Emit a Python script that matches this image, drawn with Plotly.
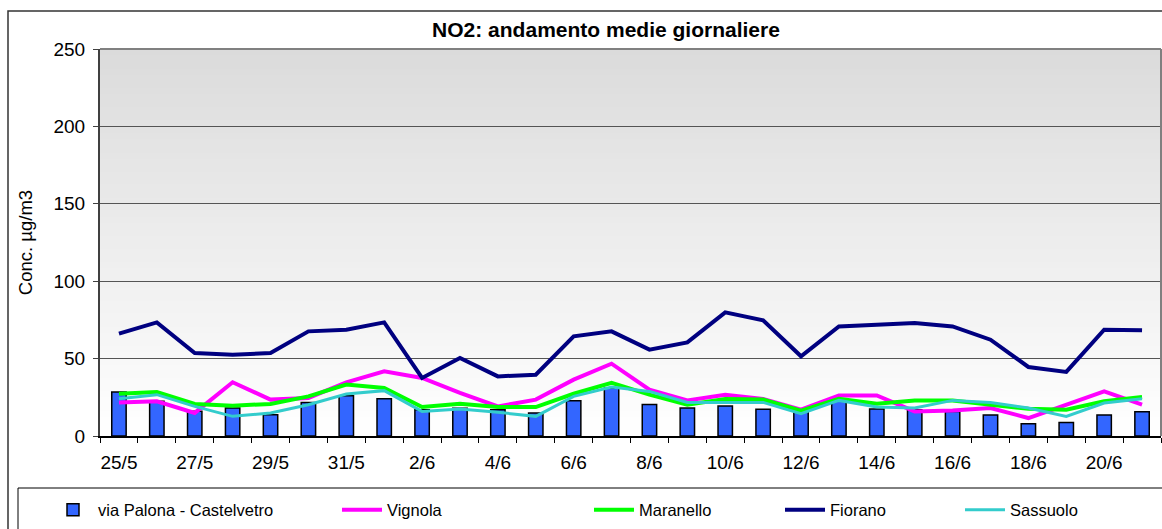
import plotly.graph_objects as go

dates = ["25/5", "26/5", "27/5", "28/5", "29/5", "30/5", "31/5",
         "1/6", "2/6", "3/6", "4/6", "5/6", "6/6", "7/6", "8/6", "9/6",
         "10/6", "11/6", "12/6", "13/6", "14/6", "15/6", "16/6", "17/6",
         "18/6", "19/6", "20/6", "21/6"]

palona = [28.4, 22.5, 16, 18.1, 13.8, 21.7, 26, 24.1, 17, 18, 17, 14.9, 22.8, 31,
          20.4, 18.1, 19.4, 17.2, 15.5, 22.4, 17.4, 17, 15.9, 13.6, 7.9, 8.8, 13.6, 15.7]
vignola = [21.7, 22.4, 14.9, 34.7, 23.5, 24.6, 34.7, 41.8, 37.5, 27.8, 19.1, 23.5, 36.4, 46.7,
           29.9, 23, 26.7, 23.9, 17, 26.2, 26.2, 15.9, 16.4, 18.1, 11.6, 20.2, 28.8, 20.2]
maranello = [27.3, 28.4, 20.7, 19.6, 20.7, 25.6, 33.2, 31, 18.7, 20.9, 18.7, 18.7, 27.3, 34.3,
             26.7, 20.2, 23.9, 23.5, 16.4, 24.1, 20.9, 23, 23, 20.2, 17.6, 17, 22.4, 25.2]
fiorano = [66.1, 73.4, 53.6, 52.5, 53.6, 67.6, 68.7, 73.4, 37.5, 50.4, 38.5, 39.6, 64.4, 67.6,
           55.8, 60.5, 79.9, 74.7, 51.5, 70.8, 71.9, 73, 70.8, 62.2, 44.6, 41.4, 68.7, 68.3]
sassuolo = [24.1, 26.7, 19.1, 12.7, 14.9, 20.2, 27.1, 29.3, 15.9, 17.4, 15.3, 12.7, 25.6, 31.7,
            28.8, 21.7, 21.7, 21.7, 14.4, 23, 18.7, 18.1, 23, 21.7, 18.1, 12.7, 21.3, 24.1]

tick_text = [d if i % 2 == 0 else "" for i, d in enumerate(dates)]

W, H = 1162, 529
ML, MR, MT, MB = 100, 1, 49, 93
PW, PH = W - ML - MR, H - MT - MB


def px(xp):
    return (xp - ML) / PW


def py(yp):
    return (H - MB - yp) / PH


FONT = "Liberation Sans, Arial, sans-serif"

fig = go.Figure()
fig.add_trace(go.Bar(x=dates, y=palona, name="via Palona - Castelvetro",
                     marker=dict(color="#3366ff", line=dict(color="black", width=1.5)),
                     legend="legend"))
line_specs = [("Vignola", vignola, "#ff00ff", 4, "legend2"),
              ("Maranello", maranello, "#00ff00", 4, "legend3"),
              ("Fiorano", fiorano, "#000080", 4, "legend4"),
              ("Sassuolo", sassuolo, "#33cccc", 3, "legend5")]
for name, vals, col, w, lg in line_specs:
    fig.add_trace(go.Scatter(x=dates, y=vals, name=name, mode="lines",
                             line=dict(color=col, width=w), legend=lg))

# background gradient stripes
shapes = []
N = 60
c0, c1 = 0xdb, 0xff
for i in range(N):
    t = (i + 0.5) / N
    c = int(round(c1 + (c0 - c1) * t))
    col = f"rgb({c},{c},{c})"
    shapes.append(dict(type="rect", xref="paper", yref="paper", x0=0, x1=1,
                       y0=i / N, y1=(i + 1) / N + 0.002, fillcolor=col,
                       line=dict(width=0), layer="below"))
# plot border top/right
shapes.append(dict(type="line", xref="paper", yref="paper", x0=0, x1=1, y0=1, y1=1,
                   line=dict(color="#808080", width=2)))
shapes.append(dict(type="line", xref="paper", yref="paper", x0=1, x1=1, y0=0, y1=1,
                   line=dict(color="#808080", width=2)))
# outer chart border
shapes.append(dict(type="rect", xref="paper", yref="paper", x0=px(8), x1=px(1180),
                   y0=py(560), y1=py(11), line=dict(color="#333333", width=1.5)))
# legend box
shapes.append(dict(type="rect", xref="paper", yref="paper", x0=px(18), x1=px(1180),
                   y0=py(560), y1=py(488), line=dict(color="#000000", width=1)))

legend_common = dict(orientation="h", xref="container", yref="container",
                     yanchor="middle", bgcolor="rgba(0,0,0,0)",
                     font=dict(family=FONT, size=16.5, color="black"), itemwidth=40)
text_starts = [98, 387, 639, 830, 1010]
legends = {}
for k, xs in zip(["legend", "legend2", "legend3", "legend4", "legend5"], text_starts):
    legends[k] = dict(legend_common, x=(xs - 50) / W, y=1 - 510 / H)

fig.update_layout(
    width=W, height=H,
    margin=dict(l=ML, r=MR, t=MT, b=MB, autoexpand=False),
    paper_bgcolor="white", plot_bgcolor="rgba(0,0,0,0)",
    font=dict(family=FONT, size=19, color="black"),
    title=dict(text="<b>NO2: andamento medie giornaliere</b>", x=606 / W, xref="container",
               xanchor="center", y=1 - 30 / H, yref="container", yanchor="middle",
               font=dict(family=FONT, size=21, color="black")),
    bargap=0.62,
    showlegend=True,
    shapes=shapes,
    **legends,
)
fig.update_xaxes(type="category", tickvals=dates, ticktext=tick_text, tickson="boundaries",
                 ticks="outside", ticklen=5, tickcolor="black", showline=True,
                 linecolor="black", linewidth=1.5, showgrid=False, zeroline=False,
                 tickfont=dict(family=FONT, size=19), ticklabelstandoff=8, tickangle=0,
                 automargin=False, range=[-0.5, len(dates) - 0.5])
fig.update_yaxes(range=[0, 250], dtick=50, ticks="outside", ticklen=5, tickcolor="#404040",
                 showline=True, linecolor="#404040", linewidth=2, showgrid=True,
                 gridcolor="#555555", gridwidth=1, zeroline=False, automargin=False,
                 tickfont=dict(family=FONT, size=19), ticklabelstandoff=4,
                 title=dict(text="Conc. µg/m3", font=dict(family=FONT, size=18.5), standoff=16))

fig.write_html("out.html", config={"displayModeBar": False},
               post_script="document.body.style.margin='0';")
